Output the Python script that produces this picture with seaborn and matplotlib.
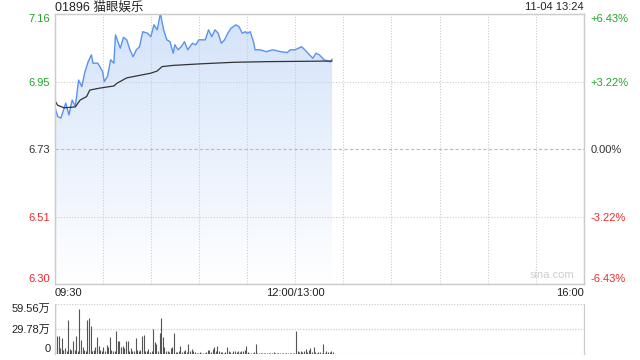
import numpy as np
import pandas as pd
import matplotlib
matplotlib.use("Agg")
import matplotlib.pyplot as plt
import seaborn as sns
from matplotlib.patches import Polygon

sns.set_style("white")
plt.rcParams['font.family'] = ['Liberation Sans', 'Noto Sans CJK SC', 'DejaVu Sans']

title = "01896 猫眼娱乐"
stamp = "11-04 13:24"
prev_close = 6.73
pct_range = 0.0643

price_min = [0, 2, 4, 7, 9, 11, 13, 15, 17, 19, 21, 23, 24, 27, 30, 31, 33, 35, 37, 38,
             41, 43, 45, 47, 49, 51, 53, 55, 58, 60, 62, 64, 66, 68, 70, 72, 74, 75, 77,
             79, 81, 83, 86, 88, 90, 94, 96, 98, 100, 102, 104, 106, 108, 110, 113, 115,
             117, 119, 120, 122, 124, 125, 128, 132, 136, 141, 145, 147, 150, 152, 154,
             156, 158, 161, 163, 165, 168, 172, 173]
price_val = [6.868, 6.834, 6.829, 6.877, 6.839, 6.887, 6.866, 6.951, 6.930, 6.978, 7.010,
             7.032, 7.005, 7.005, 6.978, 6.946, 6.962, 7.016, 7.005, 7.096, 7.053, 7.088,
             7.080, 7.048, 7.026, 7.048, 7.058, 7.106, 7.101, 7.090, 7.128, 7.112, 7.165,
             7.112, 7.080, 7.074, 7.037, 7.064, 7.048, 7.058, 7.074, 7.048, 7.069, 7.064,
             7.080, 7.080, 7.112, 7.090, 7.112, 7.101, 7.069, 7.080, 7.101, 7.117, 7.128,
             7.122, 7.101, 7.106, 7.101, 7.106, 7.074, 7.048, 7.048, 7.042, 7.048, 7.042,
             7.039, 7.048, 7.048, 7.053, 7.058, 7.048, 7.037, 7.021, 7.037, 7.032, 7.016,
             7.009, 7.018]

avg_min = [0, 2, 6, 13, 16, 20, 22, 28, 37, 39, 45, 53, 60, 64, 67, 74, 91, 112, 132, 173]
avg_val = [6.887, 6.870, 6.862, 6.865, 6.887, 6.898, 6.919, 6.925, 6.932, 6.941, 6.958,
           6.966, 6.973, 6.980, 6.994, 6.998, 7.003, 7.008, 7.010, 7.012]

volume = [59.5, 21.8, 21.8, 7, 19, 5, 7, 3, 41, 6, 5, 16, 5, 22, 3, 53.6, 17, 8, 5, 3,
          41, 43, 33.7, 3, 5, 8, 20, 9, 5, 3, 8, 4, 11, 8, 20, 5, 4, 3, 27.8, 15,
          16, 8, 9, 7.5, 15, 16, 3, 7, 3, 3, 19, 5, 3, 5, 21, 23, 4, 3, 6, 2,
          3, 30, 14, 12, 3, 25, 43, 20, 8, 4, 3, 2, 7, 8, 25, 2, 2, 3, 9, 2,
          3, 5, 2, 12, 3, 6, 4, 2, 1, 1, 2, 1, 1, 1, 2, 5, 5, 2, 6, 8,
          3, 10, 3, 2, 2, 1, 2, 8, 3, 2, 1, 4, 3, 2, 3, 2, 3, 4, 5, 9,
          2, 1, 1, 1, 2, 12, 1, 1, 1, 1, 1, 1, 1, 1, 1, 1, 2, 1, 1, 1,
          1, 1, 1, 1, 1, 1, 1, 1, 1, 1, 27, 3, 2, 3.5, 2, 4, 6, 2, 5, 7,
          2, 8, 2, 1, 2, 2, 1, 12, 1, 3, 2, 2, 3, 2]
vol_max = 59.56

left_ticks = ["6.30", "6.51", "6.73", "6.95", "7.16"]
right_ticks = ["-6.43%", "-3.22%", "0.00%", "+3.22%", "+6.43%"]
tick_colors = ["#ee2a2a", "#ee2a2a", "#333333", "#22a52a", "#22a52a"]
x_labels = ["09:30", "12:00/13:00", "16:00"]
vol_labels = ["0", "29.78万", "59.56万"]

df_price = pd.DataFrame({"m": price_min, "p": price_val})
df_avg = pd.DataFrame({"m": avg_min, "p": avg_val})

ymin = prev_close * (1 - pct_range)
ymax = prev_close * (1 + pct_range)
total_min = 330

fig = plt.figure(figsize=(6.4, 3.6), dpi=100)
ax = fig.add_axes([54.5 / 640, 1 - 284 / 360, 529.5 / 640, 270 / 360])
axv = fig.add_axes([54.5 / 640, 1 - 354 / 360, 529.5 / 640, 50 / 360])

grid_c = "#cccccc"
# gradient fill under the price line
poly_xy = np.column_stack([np.r_[df_price.m, df_price.m.iloc[-1], df_price.m.iloc[0]],
                           np.r_[df_price.p, ymin, ymin]])
poly = Polygon(poly_xy, closed=True, facecolor="none", edgecolor="none")
ax.add_patch(poly)
grad = np.linspace(0, 1, 256).reshape(-1, 1)
top_c = np.array([0.83, 0.89, 0.98])
bot_c = np.array([1.0, 1.0, 1.0])
img = top_c[None, None, :] * (1 - grad[:, :, None]) + bot_c[None, None, :] * grad[:, :, None]
im = ax.imshow(img, extent=[0, df_price.m.max(), ymin, ymax], aspect="auto", zorder=1,
               origin="upper")
im.set_clip_path(poly)

sns.lineplot(data=df_price, x="m", y="p", ax=ax, color="#5a92f0", lw=1.0, zorder=3)
sns.lineplot(data=df_avg, x="m", y="p", ax=ax, color="#333333", lw=0.9, zorder=4)

ax.set_xlim(0, total_min)
ax.set_ylim(ymin, ymax)
for gx in range(30, total_min, 30):
    ax.axvline(gx, color=grid_c, lw=0.8, ls=(0, (1, 1.5)), zorder=2)
tick_vals = [prev_close * (1 + f * pct_range) for f in (-1, -0.5, 0, 0.5, 1)]
for i, tv in enumerate(tick_vals[1:-1]):
    ax.axhline(tv, color="#bbbbbb" if i == 1 else grid_c, lw=0.8,
               ls=(0, (3, 2)) if i == 1 else (0, (1, 1.5)), zorder=2)

ax.set_yticks(tick_vals)
ax.set_yticklabels(left_ticks)
for lab, c in zip(ax.get_yticklabels(), tick_colors):
    lab.set_color(c)
labs = ax.get_yticklabels()
labs[0].set_va("bottom")
labs[-1].set_va("top")
ax.tick_params(axis="y", length=0, pad=3, labelsize=8)

axr = ax.twinx()
axr.set_ylim(ymin, ymax)
axr.set_yticks(tick_vals)
axr.set_yticklabels(right_ticks)
for lab, c in zip(axr.get_yticklabels(), tick_colors):
    lab.set_color(c)
rl = axr.get_yticklabels()
rl[0].set_va("bottom")
rl[-1].set_va("top")
axr.tick_params(axis="y", length=0, pad=4.5, labelsize=8)

ax.set_xticks([0, 150, 330])
ax.set_xticklabels(x_labels)
xl = ax.get_xticklabels()
xl[0].set_ha("left")
xl[2].set_ha("right")
ax.tick_params(axis="x", length=0, pad=3, labelsize=8, labelcolor="#222222")
ax.set_xlabel("")
ax.set_ylabel("")
axr.set_ylabel("")
for a in (ax, axr):
    for s in a.spines.values():
        s.set_color(grid_c)
        s.set_linewidth(0.9)

ax.text(0.94 * total_min, ymin + 0.012, "sina.com", color="#cfcfcf", fontsize=8,
        ha="center", va="bottom", zorder=2)

fig.text(55 / 640, 1 - 7.5 / 360, title, fontsize=9, color="#222222", va="center", ha="left")
fig.text(584 / 640, 1 - 7.5 / 360, stamp, fontsize=8, color="#222222", va="center", ha="right")

# volume panel
vm = np.arange(len(volume)) + 0.5
axv.vlines(vm, 0, volume, colors="#555555", lw=0.8, zorder=2)
axv.set_xlim(0, total_min)
axv.set_ylim(0, vol_max)
axv.set_xticks([])
axv.set_yticks([0, vol_max / 2, vol_max])
axv.set_yticklabels(vol_labels)
vl = axv.get_yticklabels()
vl[0].set_va("bottom")
vl[-1].set_va("top")
axv.tick_params(axis="y", length=0, pad=3, labelsize=8, labelcolor="#222222")
for gy in (vol_max / 2, vol_max):
    axv.axhline(gy, color=grid_c, lw=0.9, ls=(0, (1, 1.2)), zorder=0.5)
axv.spines["top"].set_visible(False)
axv.spines["bottom"].set_visible(False)
axv.axhline(0, color=grid_c, lw=0.9, ls=(0, (1, 1.2)), zorder=0.5)
for s in ("left", "right"):
    axv.spines[s].set_color(grid_c)
    axv.spines[s].set_linewidth(0.9)

fig.savefig("out.png", dpi=100)
